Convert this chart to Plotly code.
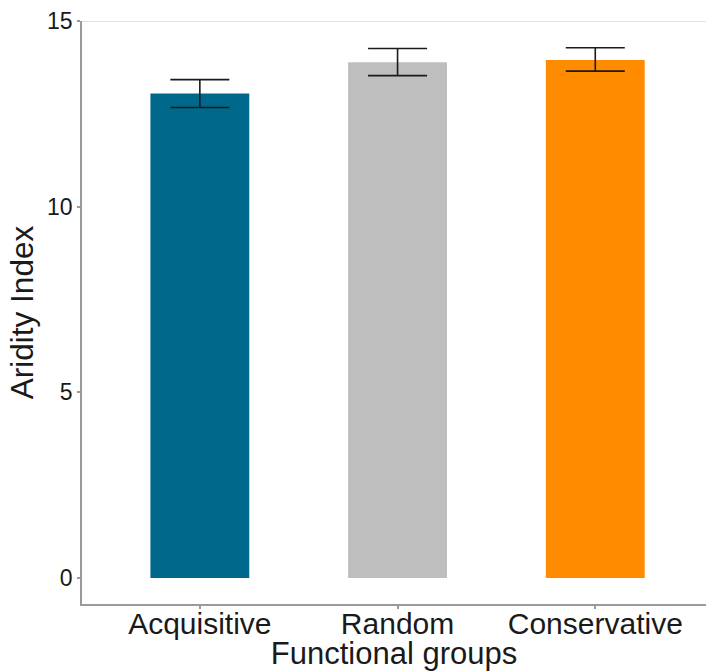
import plotly.graph_objects as go

categories = ["Acquisitive", "Random", "Conservative"]
means = [13.05, 13.89, 13.95]
err_upper = [0.37, 0.37, 0.33]
err_lower = [0.38, 0.36, 0.30]
colors = ["#00688B", "#BEBEBE", "#FF8C00"]

FONT = "Liberation Sans, Arial, sans-serif"

fig = go.Figure()
fig.add_trace(go.Bar(
    x=categories, y=means, width=0.5,
    marker=dict(color=colors, line=dict(width=0)),
    error_y=dict(type="data", symmetric=False, array=err_upper, arrayminus=err_lower,
                 color="#1a1a1a", thickness=1.6, width=29.5),
    showlegend=False,
))
fig.add_shape(type="line", xref="paper", yref="y", x0=0, x1=1, y0=15, y1=15,
              line=dict(color="#d6d6d6", width=1.5), layer="below")

fig.update_layout(
    width=706, height=671,
    margin=dict(l=82, r=0, t=21, b=67),
    plot_bgcolor="white", paper_bgcolor="white",
    bargap=0.5,
    font=dict(family=FONT, color="#1a1a1a"),
    xaxis=dict(
        range=[-0.596, 2.56], showgrid=False, zeroline=False,
        showline=True, linecolor="#9a9a9a", linewidth=1.5,
        ticks="outside", ticklen=3, tickcolor="#9a9a9a", tickwidth=1.5,
        tickfont=dict(size=30, color="#1a1a1a"),
        ticklabelstandoff=-11,
        title=dict(text="Functional groups", font=dict(size=31, color="#1a1a1a"), standoff=3),
    ),
    yaxis=dict(
        range=[-0.7, 15], showgrid=False, zeroline=False,
        showline=True, linecolor="#9a9a9a", linewidth=1.5,
        ticks="outside", ticklen=3, tickcolor="#9a9a9a", tickwidth=1.5,
        tickvals=[0, 5, 10, 15],
        tickfont=dict(size=23, color="#1a1a1a"),
        title=dict(text="Aridity Index", font=dict(size=31.5, color="#1a1a1a"), standoff=4),
    ),
)
fig.write_html("out.html")
